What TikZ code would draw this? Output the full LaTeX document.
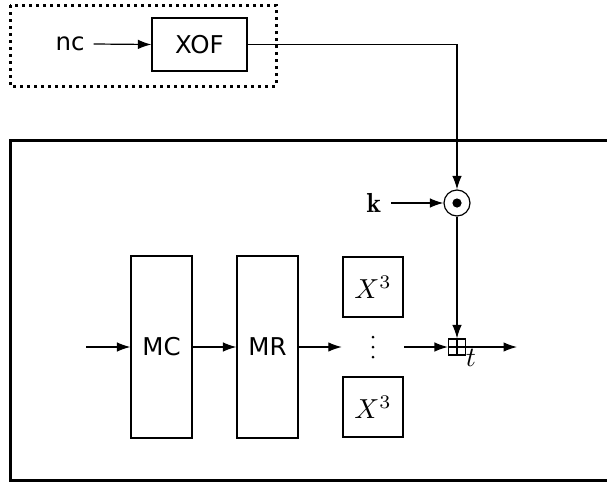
\documentclass[tikz,border=0pt]{standalone}
\usepackage{fontspec}
\newfontfamily\dvsans{DejaVu Sans}
\usetikzlibrary{arrows.meta}
\newcommand{\scmath}[2][2.75]{\scalebox{#1}{$#2$}}
\begin{document}
\begin{tikzpicture}[x=1pt,y=-1pt,
  thin line/.style={line width=1.2pt},
  box/.style={draw, thin line, inner sep=0pt},
  lbl/.style={font=\fontsize{24.5}{29}\selectfont\dvsans, inner sep=0pt},
  arr/.style={thin line, -{Latex[length=13.5pt,width=9.5pt]}},
  dotbox/.style={line width=3pt, dash pattern=on 3pt off 4pt},
  frame/.style={line width=3pt}]
\clip (0,0) rectangle (607,485);
\fill[white] (0,0) rectangle (607,485);
% dotted outer box
\draw[dotbox] (10,5) rectangle (276,86);
% solid frame
\draw[frame] (10,140) rectangle (640,480);
% top part
\node[lbl] (nc) at (70,44) {nc};
\node[box, lbl, minimum width=95pt, minimum height=53pt] (xof) at (199.5,44.5) {XOF};
\node[circle, draw, thin line, minimum size=26pt, inner sep=0pt] (odot) at (457,203) {};
\fill (odot.center) circle (4.6pt);
\node[inner sep=0pt] (k) at (374,203) {\scmath{\mathbf{k}}};
\coordinate (kout) at (391,203);
% main chain
\node[box, lbl, minimum width=61pt, minimum height=182pt] (mc) at (161.5,347) {MC};
\node[box, lbl, minimum width=61pt, minimum height=182pt] (mr) at (267.5,347) {MR};
\node[box, minimum width=60pt, minimum height=60pt] (x1) at (373,287) {\scmath{X^3}};
\node[box, minimum width=60pt, minimum height=60pt] (x2) at (373,407) {\scmath{X^3}};
\node[inner sep=0pt, minimum width=62pt, minimum height=28pt] (dots) at (373,347) {};
\foreach \dy in {-10,0,10} \fill ([yshift=\dy pt]dots.center) circle (1.5pt);
\node[draw, thin line, minimum width=17pt, minimum height=16pt, inner sep=0pt] (bp) at (457,347) {};
\draw[thin line] (bp.north) -- (bp.south) (bp.west) -- (bp.east);
\node[inner sep=0pt] (t) at (471,358) {\scmath[2.8]{t}};
\coordinate (in) at (86,347);
\coordinate (out) at (517,347);
% connectors
\draw[arr] ([xshift=9pt]nc.east) -- (xof.west);
\draw[arr] (xof.east) -| (odot.north);
\draw[arr] (kout) -- (odot.west);
\draw[arr] (odot.south) -- (bp.north);
\draw[arr] (in) -- (mc.west);
\draw[arr] (mc.east) -- (mr.west);
\draw[arr] (mr.east) -- (dots.west);
\draw[arr] (dots.east) -- (bp.west);
\draw[arr] (bp.east) -- (out);
\end{tikzpicture}
\end{document}
